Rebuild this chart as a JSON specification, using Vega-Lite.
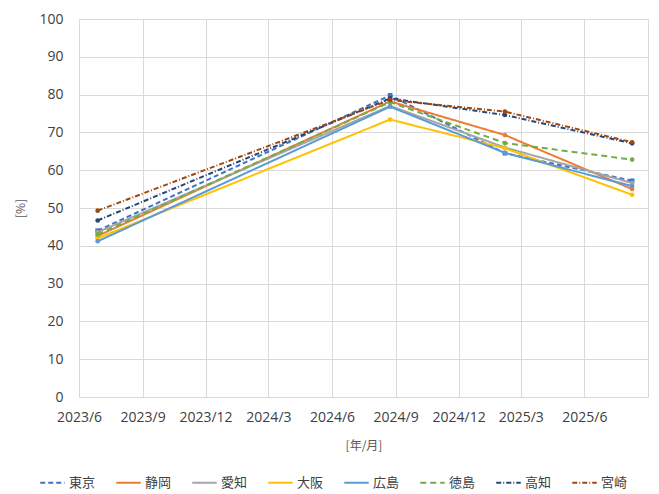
{
  "$schema": "https://vega.github.io/schema/vega-lite/v6.json",
  "width": 569,
  "height": 378,
  "autosize": {"type": "none"},
  "padding": {"left": 79, "top": 19, "right": 11, "bottom": 97},
  "background": "#ffffff",
  "config": {
    "view": {"stroke": "#d9d9d9", "strokeWidth": 1},
    "font": "Noto Sans CJK JP",
    "legend": {
      "title": null,
      "orient": "none",
      "direction": "horizontal",
      "legendX": -40,
      "legendY": 450,
      "columns": 8,
      "symbolType": "stroke",
      "symbolSize": 600,
      "symbolStrokeWidth": 2,
      "symbolFillColor": "transparent",
      "labelFont": "Noto Sans CJK JP",
      "labelFontSize": 13,
      "labelColor": "#404040",
      "columnPadding": 16,
      "labelOffset": 3
    }
  },
  "data": {
    "values": [
      {"date": "2023-06-28", "pref": "東京", "pct": 44.0},
      {"date": "2024-08-24", "pref": "東京", "pct": 79.8},
      {"date": "2025-02-06", "pref": "東京", "pct": 64.5},
      {"date": "2025-08-09", "pref": "東京", "pct": 57.2},
      {"date": "2023-06-28", "pref": "静岡", "pct": 42.6},
      {"date": "2024-08-24", "pref": "静岡", "pct": 78.2},
      {"date": "2025-02-06", "pref": "静岡", "pct": 69.3},
      {"date": "2025-08-09", "pref": "静岡", "pct": 55.0},
      {"date": "2023-06-28", "pref": "愛知", "pct": 43.6},
      {"date": "2024-08-24", "pref": "愛知", "pct": 77.0},
      {"date": "2025-02-06", "pref": "愛知", "pct": 66.0},
      {"date": "2025-08-09", "pref": "愛知", "pct": 56.6},
      {"date": "2023-06-28", "pref": "大阪", "pct": 42.0},
      {"date": "2024-08-24", "pref": "大阪", "pct": 73.4},
      {"date": "2025-02-06", "pref": "大阪", "pct": 65.8},
      {"date": "2025-08-09", "pref": "大阪", "pct": 53.5},
      {"date": "2023-06-28", "pref": "広島", "pct": 41.2},
      {"date": "2024-08-24", "pref": "広島", "pct": 76.8},
      {"date": "2025-02-06", "pref": "広島", "pct": 64.6},
      {"date": "2025-08-09", "pref": "広島", "pct": 55.8},
      {"date": "2023-06-28", "pref": "徳島", "pct": 43.0},
      {"date": "2024-08-24", "pref": "徳島", "pct": 78.0},
      {"date": "2025-02-06", "pref": "徳島", "pct": 67.2},
      {"date": "2025-08-09", "pref": "徳島", "pct": 62.8},
      {"date": "2023-06-28", "pref": "高知", "pct": 46.7},
      {"date": "2024-08-24", "pref": "高知", "pct": 79.0},
      {"date": "2025-02-06", "pref": "高知", "pct": 74.6},
      {"date": "2025-08-09", "pref": "高知", "pct": 67.1},
      {"date": "2023-06-28", "pref": "宮崎", "pct": 49.3},
      {"date": "2024-08-24", "pref": "宮崎", "pct": 78.6},
      {"date": "2025-02-06", "pref": "宮崎", "pct": 75.5},
      {"date": "2025-08-09", "pref": "宮崎", "pct": 67.4}
    ]
  },
  "encoding": {
    "x": {
      "field": "date",
      "type": "temporal",
      "scale": {
        "type": "utc",
        "domain": [
          {"year": 2023, "month": 6, "date": 1, "utc": true},
          {"year": 2025, "month": 9, "date": 1, "utc": true}
        ]
      },
      "axis": {
        "values": [
          {"year": 2023, "month": 6, "date": 1, "utc": true},
          {"year": 2023, "month": 9, "date": 1, "utc": true},
          {"year": 2023, "month": 12, "date": 1, "utc": true},
          {"year": 2024, "month": 3, "date": 1, "utc": true},
          {"year": 2024, "month": 6, "date": 1, "utc": true},
          {"year": 2024, "month": 9, "date": 1, "utc": true},
          {"year": 2024, "month": 12, "date": 1, "utc": true},
          {"year": 2025, "month": 3, "date": 1, "utc": true},
          {"year": 2025, "month": 6, "date": 1, "utc": true}
        ],
        "format": "%Y/%-m",
        "title": "[年/月]",
        "titleFont": "Noto Sans CJK JP",
        "titleFontSize": 12,
        "titleFontWeight": "normal",
        "titleColor": "#595959",
        "titlePadding": 16,
        "labelFont": "Open Sans",
        "labelFontSize": 14,
        "labelColor": "#404040",
        "labelPadding": 13,
        "labelFlush": false,
        "labelOverlap": false,
        "ticks": false,
        "domain": false,
        "grid": true,
        "gridColor": "#d9d9d9"
      }
    },
    "y": {
      "field": "pct",
      "type": "quantitative",
      "scale": {"domain": [0, 100], "nice": false, "zero": true},
      "axis": {
        "values": [0, 10, 20, 30, 40, 50, 60, 70, 80, 90, 100],
        "title": "[%]",
        "titleFont": "Noto Sans CJK JP",
        "titleFontSize": 12,
        "titleFontWeight": "normal",
        "titleColor": "#595959",
        "titlePadding": 11,
        "labelFont": "Open Sans",
        "labelFontSize": 14,
        "labelColor": "#404040",
        "labelPadding": 16,
        "ticks": false,
        "domain": false,
        "grid": true,
        "gridColor": "#d9d9d9"
      }
    },
    "color": {
      "field": "pref",
      "type": "nominal",
      "scale": {
        "domain": ["東京", "静岡", "愛知", "大阪", "広島", "徳島", "高知", "宮崎"],
        "range": ["#4472C4", "#ED7D31", "#A5A5A5", "#FFC000", "#5B9BD5", "#70AD47", "#264478", "#9E480E"]
      },
      "legend": {
        "symbolType": "stroke",
        "encode": {"symbols": {"update": {"fill": {"value": "transparent"}, "fillOpacity": {"value": 0}}}}
      }
    }
  },
  "layer": [
    {
      "mark": {"type": "line", "strokeWidth": 2},
      "encoding": {
        "strokeDash": {
          "field": "pref",
          "type": "nominal",
          "scale": {
            "domain": ["東京", "静岡", "愛知", "大阪", "広島", "徳島", "高知", "宮崎"],
            "range": [[5, 3], [1, 0], [1, 0], [1, 0], [1, 0], [6, 4], [5, 2, 1, 2], [5, 2, 1, 2]]
          },
          "legend": {
            "symbolType": "stroke",
            "encode": {"symbols": {"update": {"fill": {"value": "transparent"}, "fillOpacity": {"value": 0}}}}
          }
        }
      }
    },
    {
      "mark": {"type": "point", "filled": true, "size": 22, "opacity": 1},
      "encoding": {
        "shape": {
          "condition": {"test": "datum.pref === '東京'", "value": "square"},
          "value": "circle"
        }
      }
    }
  ]
}
